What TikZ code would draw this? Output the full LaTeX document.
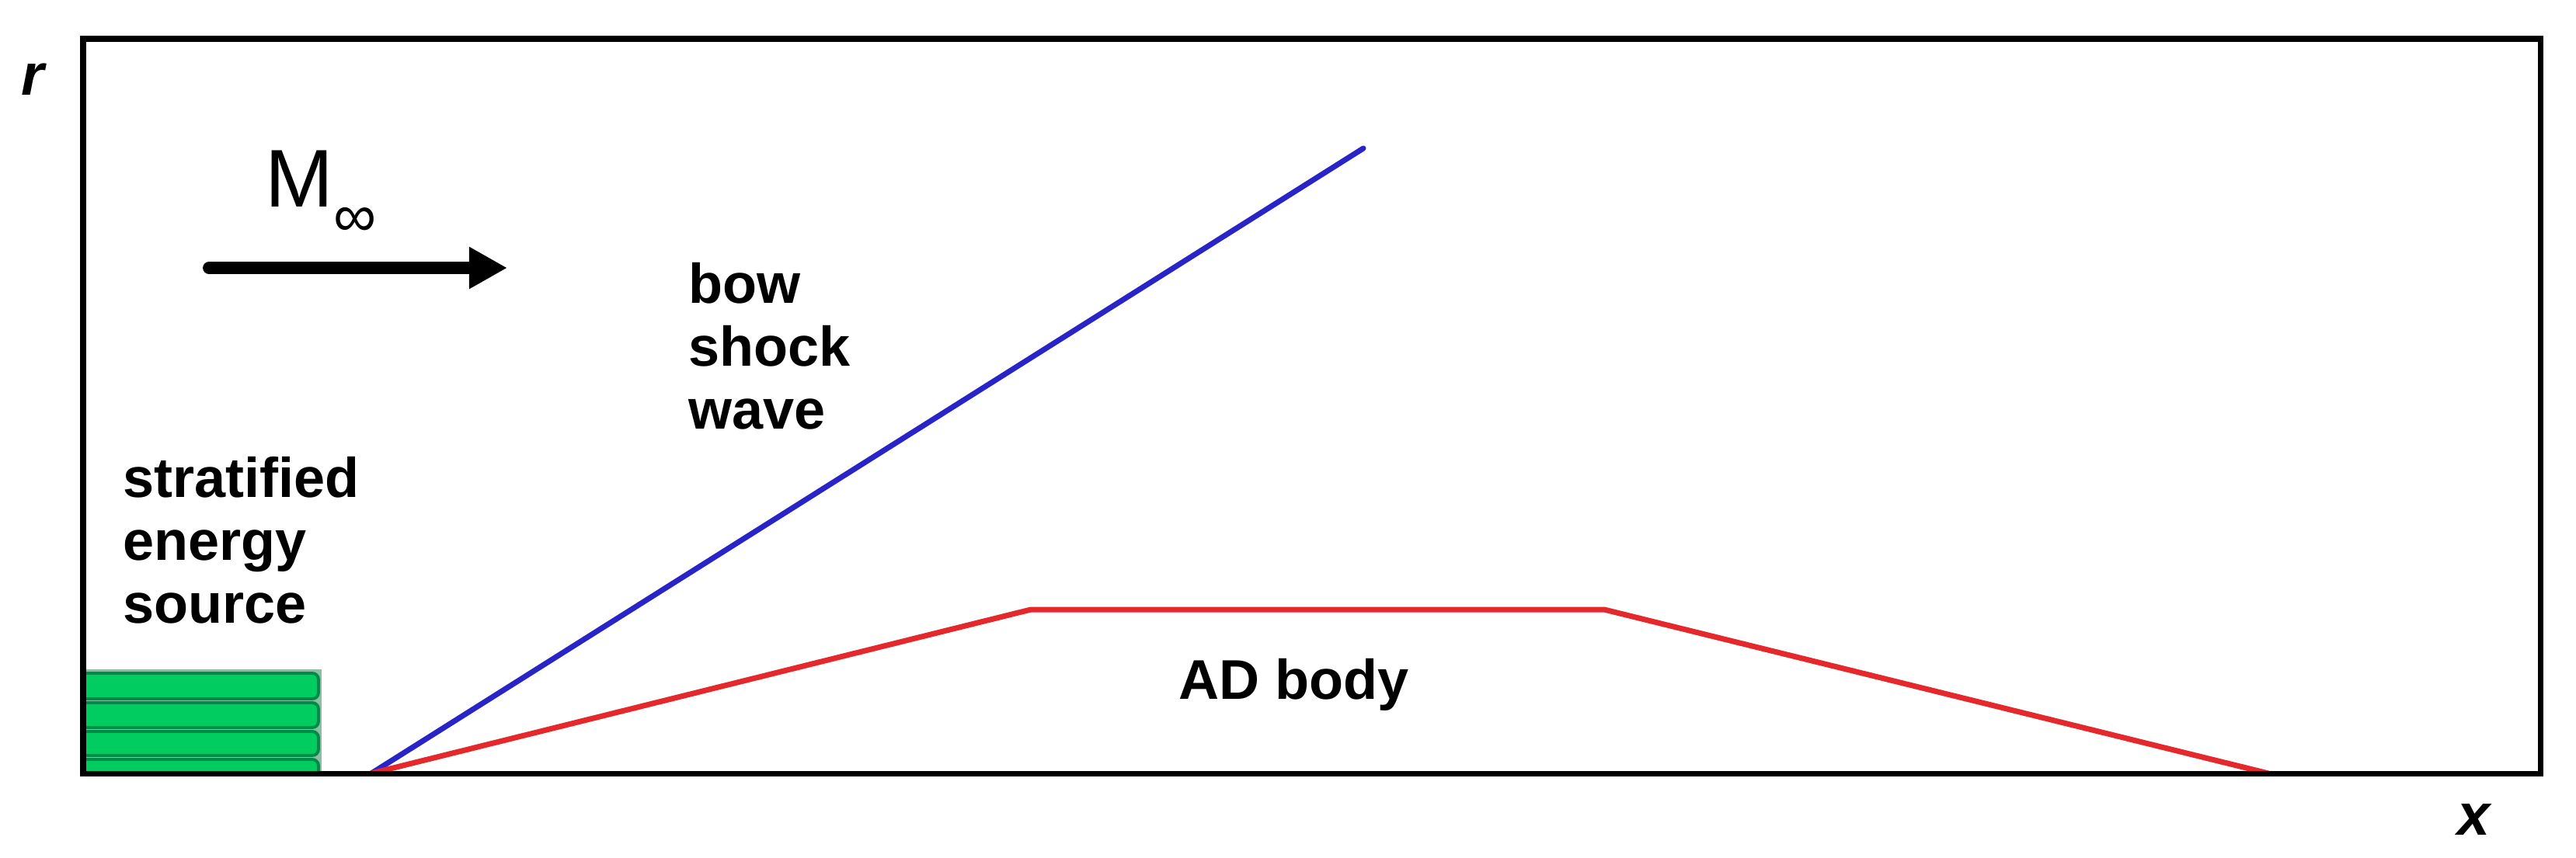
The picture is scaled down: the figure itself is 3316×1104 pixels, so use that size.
\documentclass[tikz,border=0pt]{standalone}
\usepackage{fontspec}
\setmainfont{Liberation Sans}
\usetikzlibrary{arrows.meta}
\definecolor{shockblue}{RGB}{40,36,200}
\definecolor{bodyred}{RGB}{228,40,44}
\definecolor{barfill}{RGB}{0,204,96}
\definecolor{barline}{RGB}{0,138,72}
\definecolor{bargap}{RGB}{140,190,160}
\tikzset{
  lbl/.style={inner sep=0pt, font=\fontsize{20.5}{23}\selectfont\bfseries, align=left},
  axislbl/.style={inner sep=0pt, font=\fontsize{21.5}{24}\selectfont\bfseries\itshape},
  frame/.style={draw=black, line width=2pt},
  shock/.style={draw=shockblue, line width=2pt, line cap=round},
  adbody/.style={draw=bodyred, line width=2pt, line join=miter},
  bar/.style={fill=barfill, draw=barline, line width=1.1pt},
  flow/.style={line width=4.5pt, line cap=round, -{Triangle[length=14pt,width=14.5pt]}}
}
\begin{document}
\begin{tikzpicture}[x=0.1mm,y=-0.1mm]
\useasboundingbox (0,0) rectangle (3316,1104);
% stratified energy source (green bars)
\fill[bargap] (107,862) rectangle (414,996);
\draw[bar] (107,867) [rounded corners=0.8mm] -- (410,867) -- (410,900) [sharp corners] -- (107,900) -- cycle;
\draw[bar] (107,905) [rounded corners=0.8mm] -- (410,905) -- (410,937) [sharp corners] -- (107,937) -- cycle;
\draw[bar] (107,942) [rounded corners=0.8mm] -- (410,942) -- (410,973) [sharp corners] -- (107,973) -- cycle;
\draw[bar] (107,978) [rounded corners=0.8mm] -- (410,978) [sharp corners] -- (410,996) -- (107,996) -- cycle;
% bow shock wave
\coordinate (origin) at (478,996);
\coordinate (shockend) at (1755,191);
\draw[shock] (origin) -- (shockend);
% AD body
\coordinate (b1) at (1327,785);
\coordinate (b2) at (2065,785);
\coordinate (bend) at (2920,996);
\draw[adbody] (origin) -- (b1) -- (b2) -- (bend);
% frame
\draw[frame] (107,50) rectangle (3270,996);
% free stream arrow
\coordinate (fs1) at (269,345);
\coordinate (fs2) at (653,345);
\draw[flow] (fs1) -- (fs2);
\node[anchor=base west, inner sep=0pt] (mach) at (341,266)
  {\fontsize{30}{34}\selectfont M\raisebox{-11pt}{\fontsize{22}{24}\selectfont ∞}};
% labels
\node[lbl, anchor=north west] (bow) at (886,338) {bow\\shock\\wave};
\node[lbl, anchor=north west] (src) at (158,588) {stratified\\energy\\source};
\node[lbl, anchor=base west] (ad) at (1517,900) {AD body};
\node[axislbl, anchor=base west] (rlab) at (27,122) {r};
\node[axislbl, anchor=base west] (xlab) at (3163,1075) {x};
\end{tikzpicture}
\end{document}
